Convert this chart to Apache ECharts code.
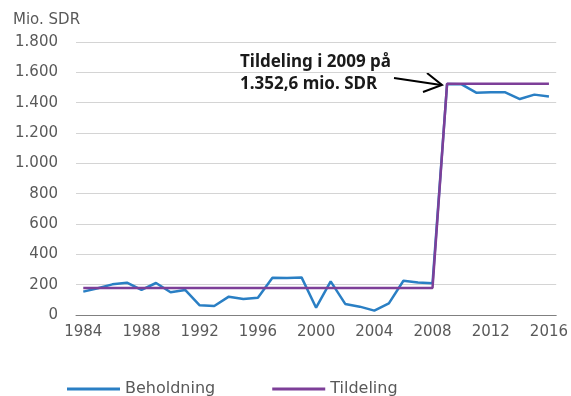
<!DOCTYPE html>
<html>
<head>
<meta charset="utf-8">
<script src="https://cdn.jsdelivr.net/npm/echarts@6/dist/echarts.min.js"></script>
<style>
html, body { margin: 0; padding: 0; background: #fff; }
#chart { width: 571px; height: 396px; }
</style>
</head>
<body>
<div id="chart"></div>
<script>
// år og verdier (mio. SDR)
var years = [];
for (var y = 1984; y <= 2016; y++) { years.push(String(y)); }

var beholdning = [154, 176, 202, 213, 165, 211, 150, 165, 64, 59,
	121, 105, 114, 246, 244, 248, 48, 222, 73, 55,
	29, 77, 226, 215, 209, 1523, 1521, 1466, 1468, 1468,
	1424, 1453, 1440];

var tildeling = [178, 178, 178, 178, 178, 178, 178, 178, 178, 178,
	178, 178, 178, 178, 178, 178, 178, 178, 178, 178,
	178, 178, 178, 178, 178, 1525, 1525, 1525, 1525, 1525,
	1525, 1525, 1525];

var seriesNames = ['Beholdning', 'Tildeling'];
var noteText = 'Tildeling i 2009 på\n1.352,6 mio. SDR';

var myChart = echarts.init(document.getElementById('chart'));
var fontName = 'DejaVu Sans';
var grey = '#595959';

var option = {
	animation: false,
	title: {
		text: 'Mio. SDR',
		left: 8,
		top: 8,
		textStyle: { fontFamily: fontName, fontSize: 15, fontWeight: 'normal', color: grey }
	},
	grid: { left: 76, right: 13, top: 42, bottom: 81 },
	legend: {
		data: seriesNames,
		left: 62,
		top: 376,
		itemWidth: 53,
		itemHeight: 3,
		itemGap: 57,
		icon: 'rect',
		textStyle: { fontFamily: fontName, fontSize: 16, color: grey }
	},
	xAxis: {
		type: 'category',
		data: years,
		boundaryGap: true,
		axisLine: { lineStyle: { color: '#808080', width: 1 } },
		axisTick: { inside: true, length: 4, interval: 0, lineStyle: { color: '#808080' } },
		axisLabel: { interval: 3, margin: 10, fontFamily: fontName, fontSize: 15, color: grey }
	},
	yAxis: {
		type: 'value',
		min: 0,
		max: 1800,
		interval: 200,
		axisLine: { show: false },
		axisTick: { show: false },
		splitLine: { lineStyle: { color: '#d4d4d4', width: 1 } },
		axisLabel: {
			margin: 18,
			fontFamily: fontName, fontSize: 15, color: grey,
			formatter: function (v) { return String(v).replace(/\B(?=(\d{3})+(?!\d))/g, '.'); }
		}
	},
	series: [{
		name: seriesNames[0],
		type: 'line',
		data: beholdning,
		symbol: 'none',
		lineStyle: { color: '#2a7fc4', width: 2.5 },
		itemStyle: { color: '#2a7fc4' }
	}, {
		name: seriesNames[1],
		type: 'line',
		data: tildeling,
		symbol: 'none',
		lineStyle: { color: '#7d3f98', width: 2.5 },
		itemStyle: { color: '#7d3f98' }
	}],
	graphic: [{
		type: 'text',
		left: 240,
		top: 51,
		style: {
			text: noteText,
			font: 'bold 17px "Noto Sans"',
			fill: '#1a1a1a',
			lineHeight: 22
		}
	}, {
		type: 'polyline',
		shape: { points: [[394, 78], [441, 85]] },
		style: { stroke: '#000', lineWidth: 2, fill: null }
	}, {
		type: 'polyline',
		shape: { points: [[427, 73], [442, 85], [423, 92]] },
		style: { stroke: '#000', lineWidth: 2, fill: null }
	}]
};

myChart.setOption(option, true);

window.addEventListener("resize", function() {
	myChart.resize();
});
</script>
</body>
</html>
